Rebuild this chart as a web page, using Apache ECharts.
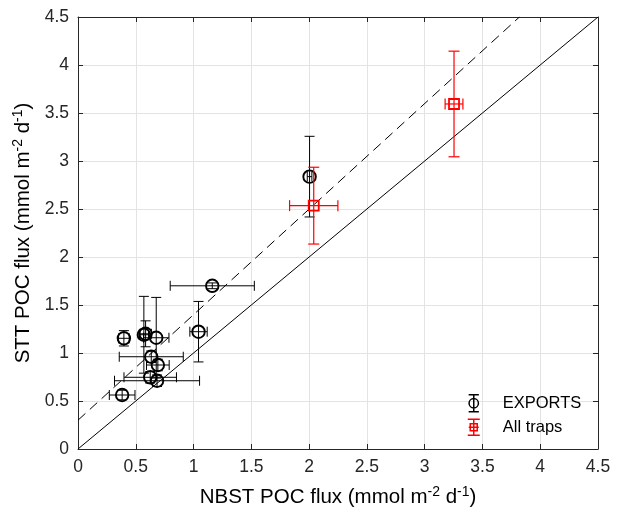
<!DOCTYPE html>
<html><head><meta charset="utf-8">
<script src="https://cdn.jsdelivr.net/npm/echarts@6/dist/echarts.min.js"></script>
<style>html,body{margin:0;padding:0;background:#fff}#c{width:621px;height:514px}</style>
</head><body><div id="c"></div>
<script>
// EXPORTS (black circles)
const exportsX    = [1.162, 2.004, 1.043, 0.397, 0.570, 0.585, 0.677, 0.634, 0.691, 0.625, 0.684, 0.382];
const exportsY    = [1.700, 2.837, 1.222, 1.153, 1.190, 1.200, 1.159, 0.961, 0.875, 0.747, 0.711, 0.5625];
const exportsXErr = [0.364, 0.020, 0.075, 0.046, 0.040, 0.050, 0.110, 0.277, 0.098, 0.227, 0.368, 0.111];
const exportsYErr = [0.030, 0.420, 0.315, 0.080, 0.400, 0.135, 0.420, 0.060, 0.060, 0.060, 0.060, 0.050];
// All traps (red squares)
const trapsX    = [2.040, 3.254];
const trapsY    = [2.535, 3.594];
const trapsXErr = [0.209, 0.077];
const trapsYErr = [0.400, 0.550];
// reference lines
const oneToOneX = [0, 4.5];
const oneToOneY = [0, 4.5];
const fitX = [0, 3.82];
const fitY = [0.30, 4.5];
// axis ticks
const axisTicks = ['0','0.5','1','1.5','2','2.5','3','3.5','4','4.5'];

const FONT = '"Liberation Sans", Arial, Helvetica, sans-serif';
const AX = '#262626';

function zipErr(x, y, ex, ey) { return x.map((v, i) => [v, y[i], ex[i], ey[i]]); }
function zip(x, y) { return x.map((v, i) => [v, y[i]]); }

function errRender(color, lw, cap) {
  return function (params, api) {
    const x = api.value(0), y = api.value(1), ex = api.value(2), ey = api.value(3);
    const l = api.coord([x - ex, y]), r = api.coord([x + ex, y]);
    const t = api.coord([x, y + ey]), b = api.coord([x, y - ey]);
    const h = cap / 2;
    const style = { stroke: color, lineWidth: lw, fill: null };
    const seg = (x1, y1, x2, y2) => ({ type: 'line', shape: { x1, y1, x2, y2 }, style });
    return {
      type: 'group', children: [
        seg(l[0], l[1], r[0], r[1]),
        seg(l[0], l[1] - h, l[0], l[1] + h),
        seg(r[0], r[1] - h, r[0], r[1] + h),
        seg(t[0], t[1], b[0], b[1]),
        seg(t[0] - h, t[1], t[0] + h, t[1]),
        seg(b[0] - h, b[1], b[0] + h, b[1])
      ]
    };
  };
}

const tickVal = axisTicks.map(Number);
const axMin = tickVal[0], axMax = tickVal[tickVal.length - 1], axInt = tickVal[1] - tickVal[0];

const baseAxis = {
  type: 'value', min: axMin, max: axMax, interval: axInt,
  axisLine: { show: true, onZero: false, lineStyle: { color: AX, width: 1 } },
  axisTick: { show: true, inside: true, length: 5, lineStyle: { color: AX } },
  axisLabel: { color: AX, fontSize: 17.5, fontFamily: FONT, margin: 9,
    formatter: v => axisTicks[Math.round((v - axMin) / axInt)] },
  splitLine: { show: true, lineStyle: { color: '#e3e3e3', width: 1 } }
};
const mirrorAxis = {
  type: 'value', min: axMin, max: axMax, interval: axInt,
  axisLine: { show: true, onZero: false, lineStyle: { color: AX, width: 1 } },
  axisTick: { show: true, inside: true, length: 5, lineStyle: { color: AX } },
  axisLabel: { show: false }, splitLine: { show: false }
};
const nameStyle = {
  fontSize: 20.5, color: '#000', fontFamily: FONT,
  rich: { sup: { fontSize: 14, fontFamily: FONT, color: '#000', padding: [0, 0, 10, 0] } }
};

const chart = echarts.init(document.getElementById('c'), null, { renderer: 'canvas' });
chart.setOption({
  animation: false,
  backgroundColor: '#fff',
  grid: { left: 78, right: 23, top: 17, bottom: 65, containLabel: false },
  xAxis: [
    Object.assign({}, baseAxis, { position: 'bottom',
      name: 'NBST POC flux (mmol m{sup|-2} d{sup|-1})', nameLocation: 'middle', nameGap: 36,
      nameTextStyle: nameStyle }),
    Object.assign({}, mirrorAxis, { position: 'top' })
  ],
  yAxis: [
    Object.assign({}, baseAxis, { position: 'left',
      name: 'STT POC flux (mmol m{sup|-2} d{sup|-1})', nameLocation: 'middle', nameGap: 37,
      nameTextStyle: nameStyle }),
    Object.assign({}, mirrorAxis, { position: 'right' })
  ],
  legend: {
    orient: 'vertical', left: 462, top: 389, itemWidth: 12, itemHeight: 17, itemGap: 6,
    textStyle: { fontSize: 16.5, color: '#000', fontFamily: FONT, padding: [0, 0, 0, 18] },
    data: [
      { name: 'EXPORTS', icon: 'path://M0,0 L12,0 M6,0 L6,20 M0,20 L12,20 M6,4.5 A5.5,5.5 0 1 1 6,15.5 A5.5,5.5 0 1 1 6,4.5 Z',
        itemStyle: { color: 'rgba(0,0,0,0)', borderColor: '#000', borderWidth: 1.5 } },
      { name: 'All traps', icon: 'path://M0,2 L12,2 M6,2 L6,18 M0,18 L12,18 M1,10 L11,10 M2.5,6.5 L9.5,6.5 L9.5,13.5 L2.5,13.5 Z',
        itemStyle: { color: 'rgba(0,0,0,0)', borderColor: '#ff0000', borderWidth: 1.5 } }
    ]
  },
  series: [
    { type: 'line', name: '1:1', data: zip(oneToOneX, oneToOneY), symbol: 'none', silent: true,
      lineStyle: { color: '#000', width: 1 }, z: 1 },
    { type: 'line', name: 'fit', data: zip(fitX, fitY), symbol: 'none', silent: true,
      lineStyle: { color: '#000', width: 1, type: [10, 6] }, z: 1 },
    { type: 'custom', name: 'EXPORTS err', data: zipErr(exportsX, exportsY, exportsXErr, exportsYErr),
      renderItem: errRender('#000', 1, 10), encode: { x: 0, y: 1 }, z: 2, silent: true },
    { type: 'scatter', name: 'EXPORTS', data: zip(exportsX, exportsY), symbol: 'circle', symbolSize: 12.5,
      itemStyle: { color: 'rgba(0,0,0,0)', borderColor: '#000', borderWidth: 1.9, opacity: 1 }, z: 3 },
    { type: 'custom', name: 'All traps err', data: zipErr(trapsX, trapsY, trapsXErr, trapsYErr),
      renderItem: errRender('#ff0000', 1.2, 11), encode: { x: 0, y: 1 }, z: 4, silent: true },
    { type: 'scatter', name: 'All traps', data: zip(trapsX, trapsY), symbol: 'rect', symbolSize: 10,
      itemStyle: { color: 'rgba(0,0,0,0)', borderColor: '#ff0000', borderWidth: 1.8, opacity: 1 }, z: 5 }
  ]
});
</script>
</body></html>
